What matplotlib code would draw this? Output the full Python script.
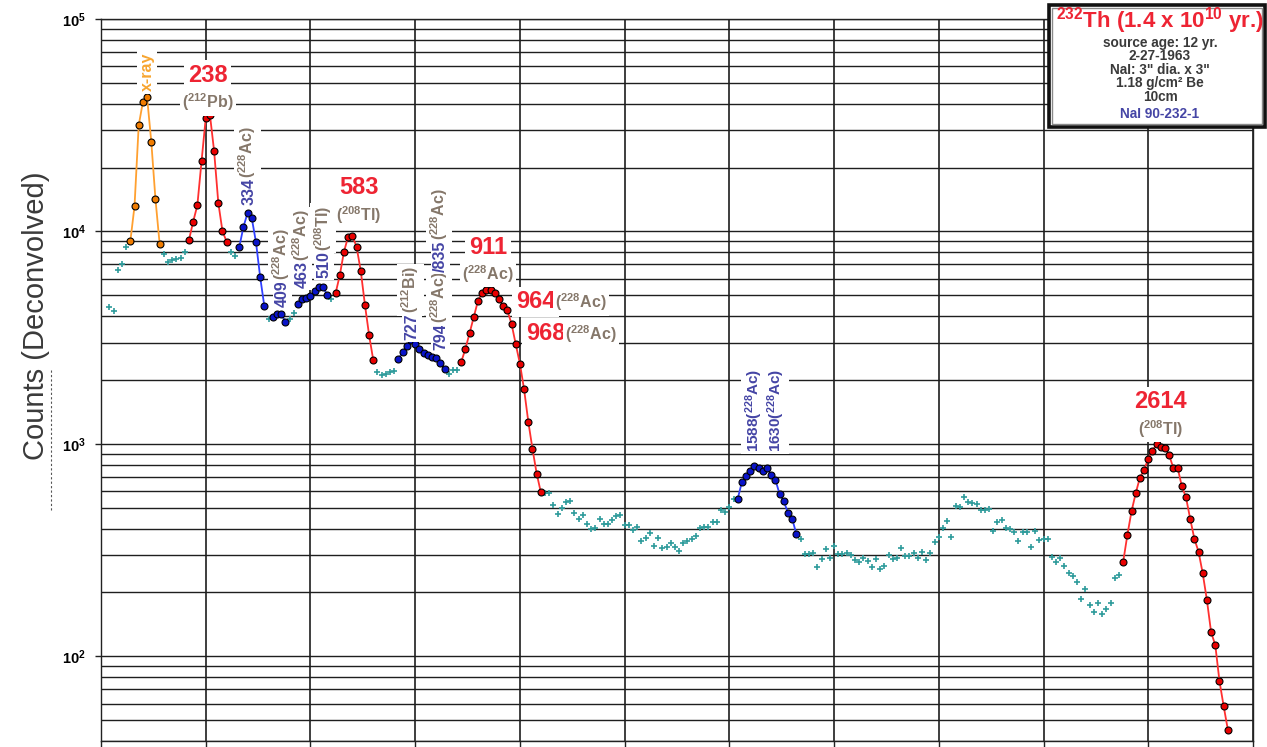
import numpy as np
import matplotlib.pyplot as plt
from matplotlib.ticker import FixedLocator, LogLocator, NullFormatter
from matplotlib.patches import Rectangle
from matplotlib.lines import Line2D

plt.rcParams['font.family'] = ['Liberation Sans', 'DejaVu Sans']
plt.rcParams['mathtext.fontset'] = 'custom'
plt.rcParams['mathtext.rm'] = 'Liberation Sans:bold'
plt.rcParams['mathtext.it'] = 'Liberation Sans:bold'
plt.rcParams['mathtext.bf'] = 'Liberation Sans:bold'

# ---- spectrum data (channel, deconvolved counts) ----
# continuum points between the fitted peaks
bg_ch = np.concatenate([
    np.arange(2, 7), np.arange(15, 21), np.arange(31, 33), [40], [45, 46], [55],
    np.arange(66, 71), np.arange(83, 86), np.arange(106, 152), np.arange(167, 244)])
bg_counts = np.array([
    4430, 4230, 6590, 7030, 8480,
    7870, 7190, 7320, 7400, 7530, 8040,
    7980, 7690,
    3870,
    3870, 4120,
    4800,
    2175, 2100, 2130, 2190, 2200,
    2135, 2220, 2220,
    590, 585, 516, 468, 498, 535, 541, 472, 442, 465, 420, 397, 404, 442, 422, 422,
    440, 460, 465, 416, 414, 393, 407, 351, 362, 380, 332, 362, 325, 327, 341, 327,
    313, 341, 348, 357, 370, 404, 406, 407, 428, 430, 489, 477, 505, 551,
    357, 305, 303, 306, 265, 289, 321, 290, 331, 304, 304, 308, 299, 285, 278, 290,
    281, 265, 287, 258, 267, 300, 287, 292, 325, 297, 297, 306, 292, 310, 284, 306,
    345, 366, 402, 434, 364, 511, 507, 563, 533, 528, 522, 489, 491, 494, 388, 430,
    440, 402, 398, 384, 348, 385, 384, 327, 388, 352, 357, 356, 293, 278, 290, 267,
    246, 238, 225, 187, 208, 174, 161, 179, 158, 167, 178, 233, 243])

xray_ch = np.arange(7, 15)
xray_counts = [8990, 13150, 31600, 40700, 42800, 26500, 14200, 8730]

pb212_ch = np.arange(21, 31)
pb212_counts = [9120, 11120, 13280, 21400, 34100, 35450, 23900, 13660, 10020, 8950]

ac334_ch = np.arange(33, 40)
ac334_counts = [8430, 10500, 12260, 11530, 8890, 6090, 4440]

ac409_ch = np.arange(41, 45)
ac409_counts = [3945, 4090, 4090, 3770]

ac463_ch = np.arange(47, 55)
ac463_counts = [4560, 4810, 4850, 4970, 5250, 5500, 5480, 5025]

tl583_ch = np.arange(56, 66)
tl583_counts = [5120, 6220, 8035, 9450, 9530, 8485, 6540, 4526, 3250, 2477]

bi727_ch = np.arange(71, 83)
bi727_counts = [2512, 2701, 2891, 3076, 2957, 2809, 2680, 2615, 2567, 2541, 2415, 2248]

ac911_ch = np.arange(86, 106)
ac911_counts = [2432, 2809, 3330, 3972, 4725, 5147, 5278, 5289, 5152, 4802,
                4452, 4249, 3678, 2951, 2388, 1805, 1274, 948, 726, 592]

ac1588_ch = np.arange(152, 167)
ac1588_counts = [553, 663, 707, 749, 791, 768, 746, 768, 715, 677, 580, 537, 474, 444, 377]

tl2614_ch = np.arange(244, 270)
tl2614_counts = [278, 372, 482, 586, 694, 754, 853, 930, 1000, 971, 961, 885, 768,
                 773, 634, 561, 445, 358, 311, 246, 184, 130, 113, 76.4, 58.3, 45.2]

decades = [1e2, 1e3, 1e4, 1e5]
decade_labels = [r'$\mathbf{10^{2}}$', r'$\mathbf{10^{3}}$', r'$\mathbf{10^{4}}$', r'$\mathbf{10^{5}}$']

RED = '#ee2433'
BROWN = '#85776a'
SLATE = '#4545a5'
ORANGE = '#f7a530'

W, H = 1267, 747
fig = plt.figure(figsize=(W / 100, H / 100), dpi=100, facecolor='white')
ax = fig.add_axes([101 / W, 6 / H, 1152 / W, 722 / H])

ax.set_xlim(0, 275)
ax.set_yscale('log')
ax.set_ylim(40, 1e5)

# grid: every 25 channels, every log subdivision
ax.set_xticks(np.arange(0, 276, 25))
ax.set_xticklabels([])
ax.tick_params(axis='x', length=8, width=1.0, direction='out', color='#222222')
ax.yaxis.set_major_locator(FixedLocator(decades))
ax.set_yticklabels(decade_labels)
ax.yaxis.set_minor_locator(LogLocator(base=10, subs=np.arange(2, 10), numticks=20))
ax.yaxis.set_minor_formatter(NullFormatter())
ax.tick_params(axis='y', which='major', length=4.3, width=1.0, pad=6.5,
               labelsize=10.5, color='#222222')
ax.tick_params(axis='y', which='minor', length=0)
ax.grid(True, which='both', axis='y', color='#1e1e1e', lw=1.0)
ax.grid(True, which='major', axis='x', color='#1e1e1e', lw=1.2)
ax.set_axisbelow(True)
for sp in ax.spines.values():
    sp.set_color('#222222')
    sp.set_linewidth(1.0)

ax.plot(bg_ch, bg_counts, '+', color='#2e9b9b', ms=5, mew=1.2, zorder=3)


def peak(ch, counts, line, face):
    ax.plot(ch, counts, '-', color=line, lw=1.3, marker='o', ms=5,
            mfc=face, mec='black', mew=0.8, zorder=4)


peak(xray_ch, xray_counts, '#ffa030', '#f07c00')
peak(pb212_ch, pb212_counts, '#ff3030', '#e80000')
peak(ac334_ch, ac334_counts, '#3040ff', '#0a14c8')
peak(ac409_ch, ac409_counts, '#3040ff', '#0a14c8')
peak(ac463_ch, ac463_counts, '#3040ff', '#0a14c8')
peak(tl583_ch, tl583_counts, '#ff3030', '#e80000')
peak(bi727_ch, bi727_counts, '#3040ff', '#0a14c8')
peak(ac911_ch, ac911_counts, '#ff3030', '#e80000')
peak(ac1588_ch, ac1588_counts, '#3040ff', '#0a14c8')
peak(tl2614_ch, tl2614_counts, '#ff3030', '#e80000')

# ---- peak labels ----
BOX = dict(boxstyle='square,pad=0.15', fc='white', ec='none')
renderer = fig.canvas.get_renderer()


def tag(x, y, s, color, size, rotation=0):
    ax.text(x, y, s, color=color, fontsize=size, fontweight='bold', rotation=rotation,
            ha='center', va='center', bbox=BOX, zorder=6)


def label(x, y, parts, rotation=0):
    # parts share one baseline, written one after another
    px, py = ax.transData.transform((x, y))
    for s, color, size in parts:
        dx, dy = ax.transData.inverted().transform((px, py))
        t = ax.text(dx, dy, s, color=color, fontsize=size, fontweight='bold',
                    rotation=rotation, rotation_mode='anchor', ha='left',
                    va='baseline', bbox=BOX, zorder=6)
        bb = t.get_window_extent(renderer)
        if rotation:
            py += bb.height
        else:
            px += bb.width


AC = r'($^{228}$Ac)'
tag(11.0, 56300, 'x-ray', ORANGE, 11.5, rotation=90)
tag(25.5, 54500, '238', RED, 17)
tag(25.5, 40500, r'($^{212}$Pb)', BROWN, 11.5)
label(36.4, 13330, [('334', SLATE, 11.5), (AC, BROWN, 11.5)], rotation=90)
label(44.4, 4413, [('409', SLATE, 11.5), (AC, BROWN, 11.5)], rotation=90)
label(49.2, 5422, [('463', SLATE, 11.5), (AC, BROWN, 11.5)], rotation=90)
label(54.4, 6043, [('510', SLATE, 11.5), (r'($^{208}$Tl)', BROWN, 11.5)], rotation=90)
tag(61.6, 16020, '583', RED, 17)
tag(61.6, 11960, r'($^{208}$Tl)', BROWN, 11.5)
label(75.3, 3086, [('727', SLATE, 11.5), (r'($^{212}$Bi)', BROWN, 11.5)], rotation=90)
label(82.1, 2769, [('794', SLATE, 11.5), (AC, BROWN, 11.5),
                   ('/835', SLATE, 11.5), (AC, BROWN, 11.5)], rotation=90)
tag(92.4, 8365, '911', RED, 17)
tag(92.4, 6308, AC, BROWN, 11.5)
label(99.0, 4341, [('964', RED, 17), (AC, BROWN, 11.5)])
label(101.4, 3069, [('968', RED, 17), (AC, BROWN, 11.5)])
# the two 228Ac lines near 1.6 MeV share one box
ax.text(158.5, 917, '1588' + AC + '\n' + '1630' + AC, color=SLATE, fontsize=11,
        fontweight='bold', rotation=90, rotation_mode='anchor', ha='left',
        va='center', linespacing=1.0, bbox=BOX, zorder=6)
tag(253.0, 1576, '2614', RED, 17)
tag(253.0, 1177, r'($^{208}$Tl)', BROWN, 11.5)

# ---- axis title ----
fig.text(36 / W, 1 - 316 / H, 'Counts (Deconvolved)', rotation=90, ha='center',
         va='center', fontsize=21, color='#3a3a3a')
fig.add_artist(Line2D([50.7 / W, 50.7 / W], [1 - 370 / H, 1 - 510 / H],
                      ls=(0, (2, 2)), lw=0.8, color='#555555'))

# ---- source info box ----
fig.add_artist(Rectangle((1049 / W, 1 - 127 / H), 216 / W, 122 / H,
                         transform=fig.transFigure, fc='white', ec='#111111',
                         lw=2.6, zorder=10))
fig.add_artist(Rectangle((1052 / W, 1 - 124 / H), 210 / W, 116 / H,
                         transform=fig.transFigure, fc='none', ec='#8a8a8a',
                         lw=1.0, zorder=10))
INFO = '#3a3a3a'
fig.text(1160 / W, 1 - 21 / H, r'$^{232}$Th (1.4 x 10$^{10}$ yr.)', color=RED,
         fontsize=16, fontweight='bold', ha='center', va='center', zorder=11)
info_lines = ['source age: 12 yr.', '2-27-1963', 'NaI: 3" dia. x 3"',
              '1.18 g/cm² Be', '10cm']
info_y = [43.5, 56, 70, 82.5, 97]
for s, yy in zip(info_lines, info_y):
    fig.text(1160 / W, 1 - yy / H, s, color=INFO, fontsize=9.8, fontweight='bold',
             ha='center', va='center', zorder=11)
fig.text(1160 / W, 1 - 113.5 / H, 'NaI 90-232-1', color=SLATE, fontsize=9.8,
         fontweight='bold', ha='center', va='center', zorder=11)

fig.savefig('out.png', dpi=100, facecolor='white')
